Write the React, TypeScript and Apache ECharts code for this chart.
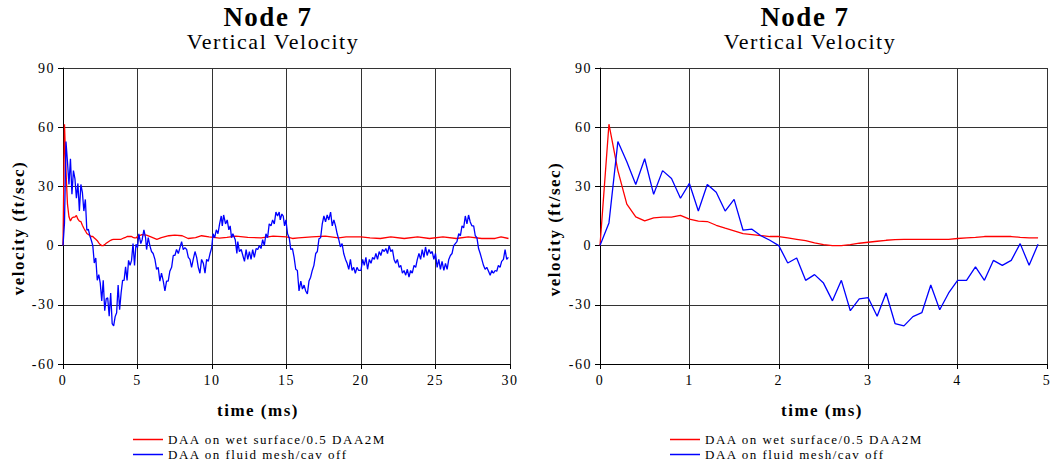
import React, { useEffect, useRef } from 'react';
import * as echarts from 'echarts';

// ---- data (time in ms, velocity in ft/sec) ----
const earlyTimes = [
  0, 0.1, 0.2, 0.3, 0.4, 0.5, 0.6, 0.7, 0.8, 0.9,
  1.0, 1.1, 1.2, 1.3, 1.4, 1.5, 1.6, 1.7, 1.8, 1.9,
  2.0, 2.1, 2.2, 2.3, 2.4, 2.5, 2.6, 2.7, 2.8, 2.9,
  3.0, 3.1, 3.2, 3.3, 3.4, 3.5, 3.6, 3.7, 3.8, 3.9,
  4.0, 4.1, 4.2, 4.3, 4.4, 4.5, 4.6, 4.7, 4.8, 4.9,
];

const earlyRed = [
  0, 61.5, 38, 21, 14.6, 12.5, 14, 14.4, 14.4, 15.3,
  13.4, 12.4, 12.2, 10.3, 8.8, 7.5, 6.1, 5.6, 5.1, 4.6,
  4.6, 3.9, 3.2, 2.5, 1.4, 0.5, 0, 0, 0.5, 1.2,
  1.7, 2.2, 2.7, 3.0, 3.2, 3.2, 3.2, 3.2, 3.2, 3.2,
  3.6, 3.9, 4.2, 4.6, 4.6, 4.6, 4.6, 4.2, 3.9, 3.9,
];

const earlyBlue = [
  0, 11.5, 52.7, 42.5, 31, 44, 26, 38, 34, 24,
  31.5, 17.5, 31, 27, 17.5, 23.4, 7.8, 8.3, 5, 2.7,
  0, -8.8, -6.3, -17.6, -14.7, -19, -28, -17.6, -33, -27,
  -26.4, -35.8, -24, -39.5, -40.7, -36, -34, -20, -32.5, -24,
  -17.6, -17.6, -10.8, -17.6, -7.5, -10, -7.5, 1, -10, 0.7,
];

const lateRed: [number, number][] = [
  [5.0, 4.6], [5.3, 5.6], [5.6, 5.3], [5.9, 4.4], [6.3, 3.2], [6.6, 4.0], [7.1, 5.0], [7.5, 5.3],
  [8.0, 5.0], [8.4, 3.6], [8.9, 4.0], [9.3, 5.0], [9.8, 4.4], [10.1, 4.2], [10.5, 3.8], [11.0, 4.2],
  [11.6, 4.8], [12.4, 4.2], [13.3, 3.9], [14.1, 4.8], [15.0, 4.4], [15.4, 3.6], [15.8, 3.9], [16.7, 4.4],
  [17.6, 4.8], [18.5, 3.9], [19.0, 4.4], [20.0, 4.4], [20.6, 3.9], [21.3, 3.6], [22.0, 4.4], [22.9, 3.6],
  [23.8, 4.4], [24.6, 3.6], [25.5, 4.4], [26.4, 3.6], [27.2, 4.4], [28.1, 3.6], [29.0, 3.6], [29.4, 4.4],
  [29.9, 3.6],
];

const lateBlue: [number, number][] = [
  [5.0, -1], [5.09, 6], [5.22, 1], [5.31, 3], [5.43, 8], [5.54, 4], [5.61, -2], [5.72, 4], [5.83, 0], [5.94, -3],
  [6.05, -4], [6.17, -7], [6.28, -12], [6.39, -11], [6.5, -18], [6.61, -14], [6.73, -18], [6.84, -23], [6.95, -18], [7.06, -18],
  [7.17, -13], [7.29, -11], [7.4, -5], [7.51, -5], [7.62, -2], [7.74, -4], [7.85, -1], [7.96, 2], [8.07, -2], [8.18, -1],
  [8.3, -2], [8.41, -6], [8.52, -7], [8.63, -11], [8.74, -7], [8.86, -3], [8.97, -6], [9.08, -11], [9.19, -14], [9.3, -7],
  [9.42, -9], [9.53, -14], [9.64, -7], [9.75, -8], [9.87, -4], [9.98, -1],
  [10.07, 6], [10.18, 4], [10.29, 8], [10.4, 6], [10.51, 11], [10.62, 15], [10.69, 10], [10.78, 15.5], [10.91, 11], [11.02, 13],
  [11.13, 8], [11.22, 10], [11.31, 4], [11.4, 6], [11.56, 3], [11.67, -4], [11.73, 2], [11.84, -3], [11.96, -2], [12.07, -5],
  [12.18, -8], [12.29, -2], [12.4, -7], [12.51, -3], [12.62, -7], [12.73, -2], [12.84, -6], [12.96, -1.5], [13.07, -2], [13.18, 0],
  [13.29, -1.5], [13.4, 3], [13.51, 0], [13.62, 6], [13.73, 4], [13.84, 11], [13.96, 10], [14.07, 13], [14.18, 11], [14.29, 17],
  [14.4, 15], [14.51, 17], [14.58, 13], [14.69, 16], [14.78, 15], [14.87, 10], [14.96, 13], [15.07, 6], [15.18, 4], [15.29, -2],
  [15.4, -1.5], [15.51, -6], [15.62, -12], [15.73, -12.6], [15.84, -23], [15.96, -18], [16.07, -22], [16.18, -20], [16.29, -23], [16.4, -24.5],
  [16.51, -18], [16.62, -16], [16.73, -12.6], [16.84, -10], [16.96, -4], [17.07, -3], [17.18, 3.5], [17.29, 4], [17.4, 11], [17.51, 15],
  [17.62, 12], [17.73, 15.5], [17.84, 13], [17.96, 17], [18.07, 10], [18.18, 13], [18.29, 10], [18.4, 6], [18.51, 3], [18.62, -0.7],
  [18.73, 1], [18.84, -4], [18.96, -7], [19.07, -9], [19.18, -12], [19.29, -7], [19.4, -12.6], [19.51, -11], [19.62, -14], [19.73, -11],
  [19.84, -12.6],
  [20.0, -12.6], [20.11, -7], [20.22, -10], [20.33, -6], [20.44, -12], [20.56, -7], [20.67, -9], [20.78, -6], [20.89, -7], [21.0, -4],
  [21.11, -7], [21.22, -3], [21.33, -5], [21.44, -2], [21.56, -3], [21.67, -1.5], [21.78, -4], [21.89, 0], [22.0, -3], [22.11, -2],
  [22.22, -7], [22.33, -9], [22.44, -7], [22.56, -11], [22.67, -10], [22.78, -14], [22.89, -12.6], [23.0, -15], [23.11, -12], [23.22, -16],
  [23.33, -12.6], [23.44, -14], [23.56, -10], [23.67, -11], [23.78, -7], [23.89, -4], [24.0, -7], [24.11, -2], [24.22, -6], [24.33, -0.7],
  [24.44, -5], [24.56, -2], [24.67, -4], [24.78, -3], [24.89, -7], [25.0, -4], [25.11, -11], [25.22, -7], [25.33, -12], [25.44, -8],
  [25.56, -12.6], [25.67, -9], [25.78, -12], [25.89, -7], [26.0, -5], [26.11, -4], [26.22, 0], [26.33, 1], [26.44, 2], [26.56, 6],
  [26.67, 5], [26.78, 10], [26.89, 9], [27.0, 15], [27.11, 11], [27.22, 15.5], [27.33, 12], [27.44, 10], [27.56, 10], [27.67, 5],
  [27.78, 4], [27.89, -1.5], [28.0, -4], [28.11, -7], [28.22, -10], [28.33, -12], [28.44, -11], [28.56, -13], [28.67, -15], [28.78, -12.6],
  [28.89, -14], [29.0, -12.6], [29.11, -13], [29.22, -10], [29.33, -11], [29.44, -8], [29.56, -7], [29.67, -2], [29.78, -7], [29.89, -6],
];

const leftXTicks = { min: 0, max: 30, interval: 5 };
const rightXTicks = { min: 0, max: 5, interval: 1 };
const yTicks = { min: -60, max: 90, interval: 30 };

const redName = 'DAA on wet surface/0.5 DAA2M';
const blueName = 'DAA on fluid mesh/cav off';
const titleText = 'Node 7';
const subtitleText = 'Vertical Velocity';
const yName = 'velocity (ft/sec)';
const xName = 'time (ms)';

const FONT = 'Liberation Serif';

export default function App() {
  const ref = useRef<HTMLDivElement>(null);

  useEffect(() => {
    if (!ref.current) return;
    const chart = echarts.init(ref.current, null, { renderer: 'svg' });

    const earlyRedPairs = earlyTimes.map((t, i) => [t, earlyRed[i]]);
    const earlyBluePairs = earlyTimes.map((t, i) => [t, earlyBlue[i]]);
    const leftRed = earlyRedPairs.concat(lateRed);
    const leftBlue = earlyBluePairs.concat(lateBlue);

    const xAxis = (gridIndex: number, ticks: { min: number; max: number; interval: number }) => ({
      type: 'value',
      gridIndex,
      min: ticks.min,
      max: ticks.max,
      interval: ticks.interval,
      axisLine: { show: true, onZero: false, lineStyle: { color: '#000', width: 1 } },
      axisTick: { show: true, inside: false, length: 5, lineStyle: { color: '#000' } },
      axisLabel: { color: '#000', fontFamily: FONT, fontSize: 14, margin: 9 },
      splitLine: { show: true, lineStyle: { color: '#333', width: 1 } },
    });
    const yAxis = (gridIndex: number) => ({
      type: 'value',
      gridIndex,
      min: yTicks.min,
      max: yTicks.max,
      interval: yTicks.interval,
      axisLine: { show: true, onZero: false, lineStyle: { color: '#000', width: 1 } },
      axisTick: { show: true, inside: false, length: 5, lineStyle: { color: '#000' } },
      axisLabel: { color: '#000', fontFamily: FONT, fontSize: 14, margin: 8 },
      splitLine: { show: true, lineStyle: { color: '#333', width: 1 } },
    });

    const lineSeries = (name: string, color: string, idx: number, data: any[]) => ({
      type: 'line',
      name,
      xAxisIndex: idx,
      yAxisIndex: idx,
      data,
      showSymbol: false,
      symbol: 'none',
      lineStyle: { color, width: 1.3 },
      itemStyle: { color },
      silent: true,
    });

    const legend = (left: number) => ({
      left,
      top: 433,
      height: 33,
      padding: 0,
      orient: 'vertical',
      icon: 'rect',
      itemWidth: 30,
      itemHeight: 1.5,
      itemGap: 2,
      textStyle: { color: '#000', fontFamily: FONT, fontSize: 13 },
      data: [redName, blueName],
      selectedMode: false,
    });

    const text = (t: string, x: number, y: number, size: number, bold: boolean, rotate = false) => ({
      type: 'text',
      x,
      y,
      rotation: rotate ? Math.PI / 2 : 0,
      style: {
        text: t,
        fill: '#000',
        fontFamily: FONT,
        fontSize: size,
        fontWeight: bold ? 'bold' : 'normal',
        textAlign: 'center',
        textVerticalAlign: 'middle',
        align: 'center',
        verticalAlign: 'middle',
      },
      silent: true,
    });

    chart.setOption({
      animation: false,
      backgroundColor: '#fff',
      grid: [
        { left: 63, top: 68, width: 447, height: 296 },
        { left: 600, top: 68, width: 447, height: 296 },
      ],
      xAxis: [xAxis(0, leftXTicks), xAxis(1, rightXTicks)],
      yAxis: [yAxis(0), yAxis(1)],
      legend: [legend(133), legend(670)],
      series: [
        lineSeries(redName, '#ff0000', 0, leftRed),
        lineSeries(blueName, '#0000ff', 0, leftBlue),
        lineSeries(redName, '#ff0000', 1, earlyRedPairs),
        lineSeries(blueName, '#0000ff', 1, earlyBluePairs),
      ],
      graphic: [
        text(titleText, 268, 16.5, 27, true),
        text(subtitleText, 273, 41.5, 22, false),
        text(titleText, 805, 16.5, 27, true),
        text(subtitleText, 810, 41.5, 22, false),
        text(yName, 18, 228, 17, true, true),
        text(yName, 554, 229, 17, true, true),
        text(xName, 258, 410, 17, true),
        text(xName, 822, 410, 17, true),
      ],
    });

    return () => chart.dispose();
  }, []);

  return (
    <div
      ref={ref}
      style={{ position: 'absolute', left: 0, top: 0, width: 1054, height: 466, letterSpacing: '1.5px', background: '#fff' }}
    />
  );
}
